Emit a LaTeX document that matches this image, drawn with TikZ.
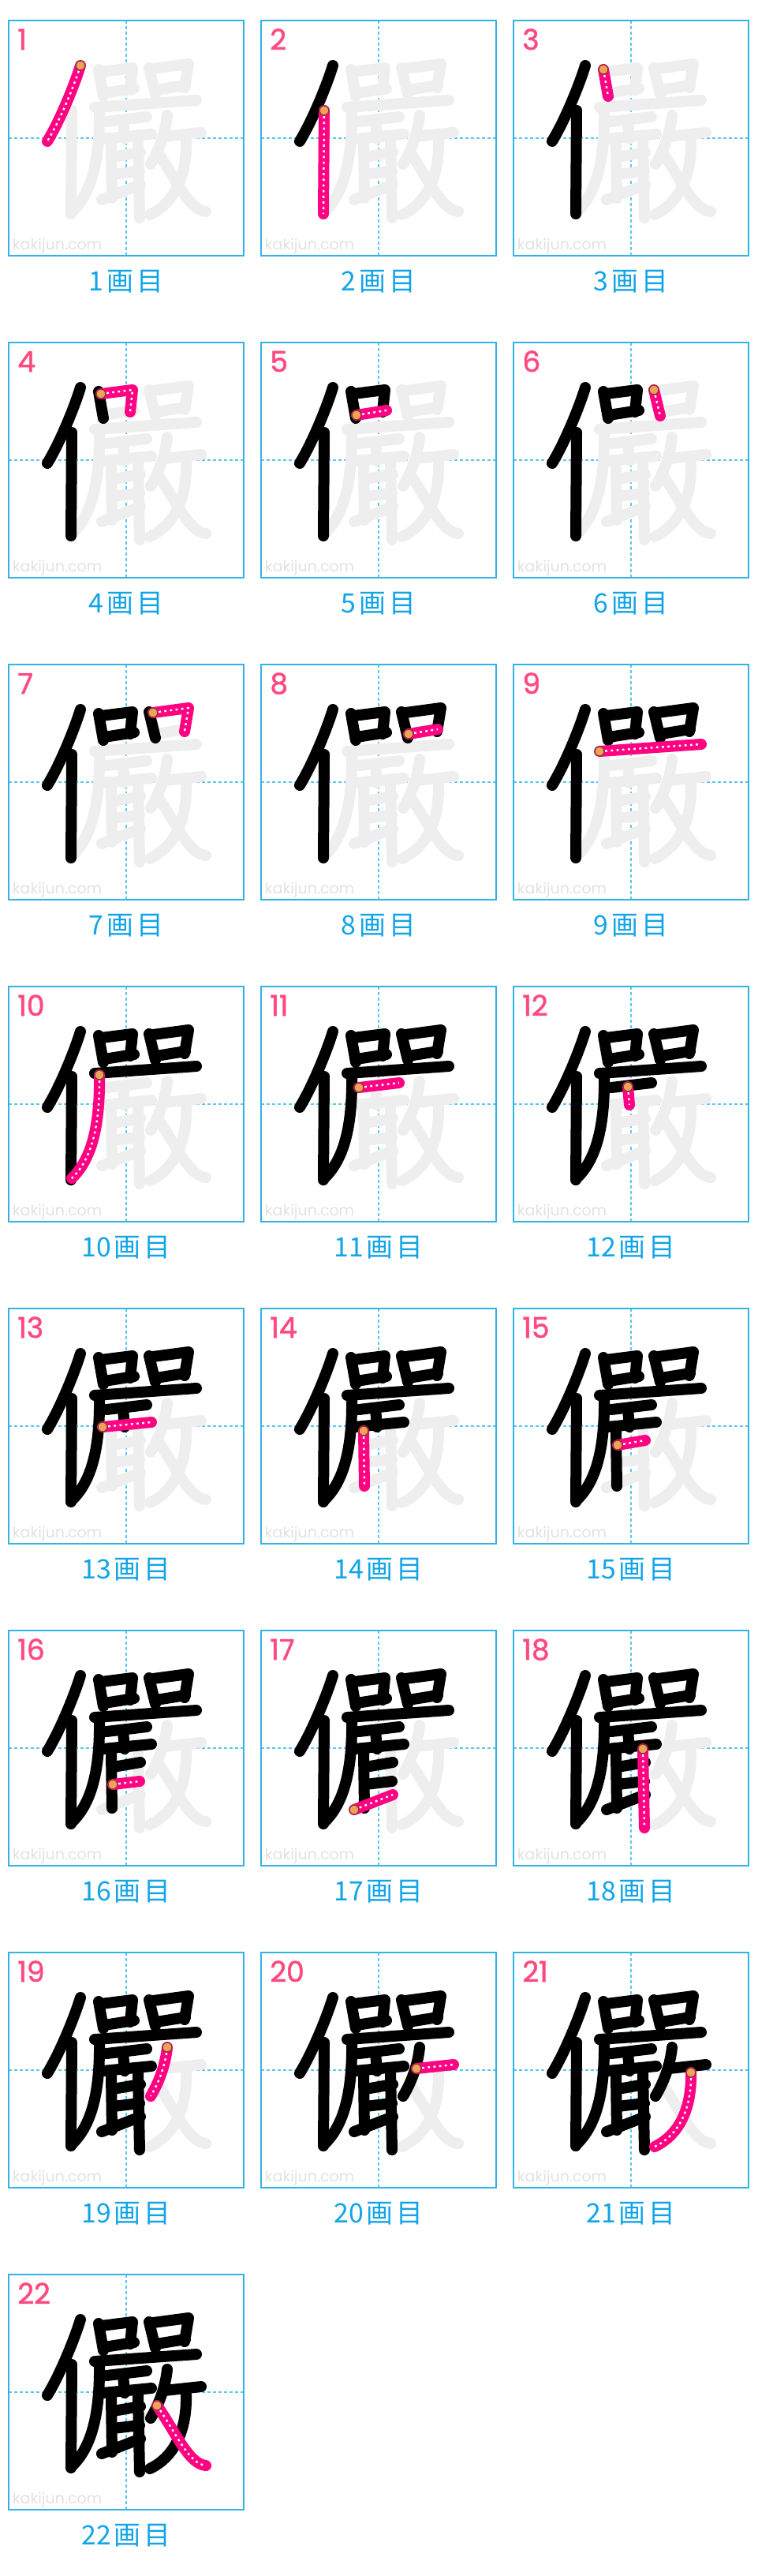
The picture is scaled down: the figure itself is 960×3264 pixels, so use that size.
\documentclass[tikz,border=0pt]{standalone}
\usepackage{fontspec}
\newfontfamily\kjnumfont[FakeBold=1.6]{Poppins}
\newfontfamily\kjwmfont{Poppins}
\newfontfamily\kjcjkfont{Noto Sans CJK JP}
\definecolor{cGhost}{HTML}{EEEEEE}
\definecolor{cPink}{HTML}{FF0382}
\definecolor{cNum}{HTML}{FF4A80}
\definecolor{cCap}{HTML}{10A4E8}
\definecolor{cBox}{HTML}{33B2E6}
\definecolor{cGuide}{HTML}{5CC6F2}
\definecolor{cOrange}{HTML}{F5A05A}
\definecolor{cBrown}{HTML}{6B4226}
\definecolor{cWm}{HTML}{E2E2E2}
\tikzset{
  kjguide/.style={draw=cGuide, line width=0.6pt, dash pattern=on 2pt off 1.5pt},
  kjboxline/.style={draw=cBox, line width=0.8pt},
  kjghost/.style={draw=cGhost, line width=7pt, line cap=round, line join=round},
  kjink/.style={draw=black, line width=7pt, line cap=round, line join=round},
  kjcur/.style={draw=cPink, line width=7pt, line cap=round, line join=round},
  kjdots/.style={draw=white, line width=1.2pt, dash pattern=on 1.4pt off 2.2pt, line join=round},
  kjstartdot/.style={fill=cOrange, draw=cBrown, line width=0.5pt},
  kjnum/.style={text=cNum, font=\kjnumfont\fontsize{18pt}{18pt}\selectfont, inner sep=0pt, anchor=base west},
  kjcaption/.style={text=cCap, font=\kjcjkfont\fontsize{16.9pt}{17pt}\selectfont, inner sep=0pt, anchor=center},
  kjwmark/.style={text=cWm, font=\kjwmfont\fontsize{9.5pt}{10pt}\selectfont, inner sep=0pt, anchor=base west}
}
\newcommand\kjstroke[2]{%
  \ifcase#2\relax
  \or \draw[#1] (91,57) coordinate (st) .. controls (84,80) and (66,125) .. (49,153);
  \or \draw[#1] (80,114) coordinate (st) -- (79,245);
  \or \draw[#1] (114,62) coordinate (st) -- (120,96);
  \or \draw[#1] (117,65) coordinate (st) -- (157,60) -- (154,88);
  \or \draw[#1] (121,92) coordinate (st) -- (159,86);
  \or \draw[#1] (178,60) coordinate (st) -- (186,93);
  \or \draw[#1] (183,61) coordinate (st) -- (228,55) -- (223,85);
  \or \draw[#1] (187,88) coordinate (st) -- (224,82);
  \or \draw[#1] (109,110) coordinate (st) -- (238,101);
  \or \draw[#1] (115,112) coordinate (st) .. controls (116,180) and (104,220) .. (80,243);
  \or \draw[#1] (124,128) coordinate (st) -- (175,122);
  \or \draw[#1] (145,127) coordinate (st) -- (147,150);
  \or \draw[#1] (119,150) coordinate (st) -- (181,144);
  \or \draw[#1] (130,155) coordinate (st) -- (131,225);
  \or \draw[#1] (132,173) coordinate (st) -- (167,167);
  \or \draw[#1] (132,195) coordinate (st) -- (166,191);
  \or \draw[#1] (118,227) coordinate (st) -- (167,208);
  \or \draw[#1] (164,150) coordinate (st) -- (166,250);
  \or \draw[#1] (201,120) coordinate (st) .. controls (199,140) and (192,162) .. (180,182);
  \or \draw[#1] (197,147) coordinate (st) -- (244,142);
  \or \draw[#1] (225,152) coordinate (st) .. controls (226,195) and (212,230) .. (179,246);
  \or \draw[#1] (188,166) coordinate (st) .. controls (212,200) and (228,240) .. (250,242);
  \fi}
\begin{document}
\begin{tikzpicture}[x=0.5pt, y=-0.5pt]
  \useasboundingbox (0,0) rectangle (960,3264);
  \fill[white] (0,0) rectangle (960,3264);
  \foreach \n in {1,...,22}{
    \pgfmathtruncatemacro\col{mod(\n-1,3)}
    \pgfmathtruncatemacro\row{(\n-1)/3}
    \pgfmathtruncatemacro\prev{\n-1}
    \begin{scope}[shift={({11+320*\col},{26+408*\row})}]
      \draw[kjguide] (149,0) -- (149,298);
      \draw[kjguide] (0,149) -- (298,149);
      \draw[kjboxline] (0,0) rectangle (298,298);
      \node[kjwmark] (wm\n) at (4.5,290.5) {kakijun.com};
      \foreach \k in {1,...,22}{\kjstroke{kjghost}{\k}}
      \ifnum\n>1
        \foreach \k in {1,...,\prev}{\kjstroke{kjink}{\k}}
      \fi
      \kjstroke{kjcur}{\n}
      \kjstroke{kjdots}{\n}
      \filldraw[kjstartdot] (st) circle[radius=2.9pt];
      \node[kjnum] (num\n) at (11,37) {\n};
      \node[kjcaption] (cap\n) at (149,331) {\n\hspace{2pt}画\hspace{2pt}目};
    \end{scope}
  }
\end{tikzpicture}
\end{document}
